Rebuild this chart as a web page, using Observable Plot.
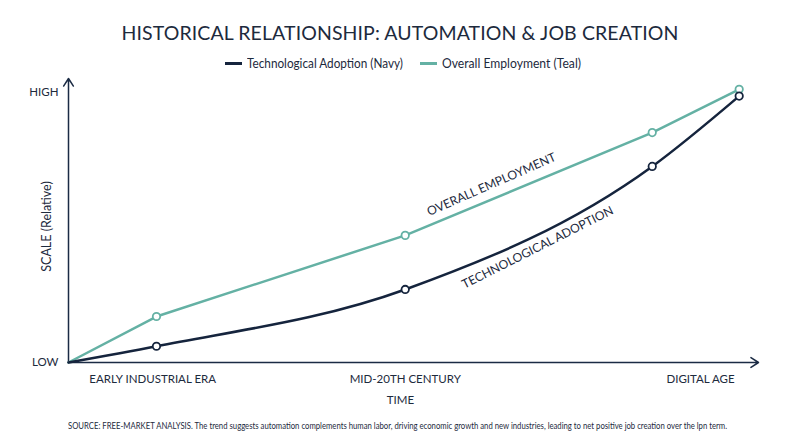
<!DOCTYPE html>
<html>
<head>
<meta charset="utf-8">
<script src="https://cdn.jsdelivr.net/npm/d3@7"></script>
<script src="https://cdn.jsdelivr.net/npm/@observablehq/plot@0.6"></script>
<style>
  html, body { margin: 0; padding: 0; background: #ffffff; }
  body { width: 800px; height: 447px; overflow: hidden; position: relative; font-family: Lato, "Open Sans", sans-serif; color: #1d2a3d; }
  #title { position: absolute; top: 21px; left: 0; width: 800px; text-align: center; font-size: 19.5px; line-height: 24px; font-weight: 400; letter-spacing: 0.1px; }
  #legend { position: absolute; top: 55px; left: 0; width: 800px; height: 16px; font-size: 13px; line-height: 16px; }
  .item { position: absolute; top: 0; display: flex; align-items: center; height: 16px; }
  .sw { width: 17px; height: 3px; margin-right: 5px; flex: none; }
  .lab { display: inline-block; white-space: nowrap; transform-origin: left center; }
  #chart { position: absolute; top: 72px; left: 0; }
  #caption { position: absolute; top: 418px; left: 68px; font-size: 10px; line-height: 15px; white-space: nowrap; transform-origin: left center; }
</style>
</head>
<body>
<div id="title"></div>
<div id="legend"></div>
<div id="chart"></div>
<div id="caption"></div>
<script>
// ---- Data ----
const titleText = "HISTORICAL RELATIONSHIP: AUTOMATION & JOB CREATION";
const seriesNames = ["Technological Adoption (Navy)", "Overall Employment (Teal)"];
const seriesColors = ["#15243d", "#64b1a4"];
const timeIndex = [0, 12.75, 48.8, 84.6, 97.2];
const techAdoption = [0, 6, 27, 72.5, 98.5];
const overallEmployment = [0, 17, 47, 85, 101];
const eraTicks = [12.2, 48.8, 91.6];
const eraLabels = ["EARLY INDUSTRIAL ERA", "MID-20TH CENTURY", "DIGITAL AGE"];
const scaleTicks = [0, 100];
const scaleLabels = ["LOW", "HIGH"];
const xDomain = [0, 100];
const yDomain = [0, 105];
const annotationText = ["OVERALL EMPLOYMENT", "TECHNOLOGICAL ADOPTION"];
const annotationX = [61.3, 68];
const annotationY = [65.8, 42.5];
const annotationAngle = [-23.7, -26.8];
const xLabel = "TIME";
const yLabel = "SCALE (Relative)";
const captionText = "SOURCE: FREE-MARKET ANALYSIS. The trend suggests automation complements human labor, driving economic growth and new industries, leading to net positive job creation over the lpn term.";

// legend layout (page pixels)
const legendLeft = [225, 420];
const legendTextWidth = [156, 139];

// ---- Build ----
const textColor = "#1d2a3d";
const axisColor = "#1b2b44";
document.getElementById("title").textContent = titleText;
const legend = document.getElementById("legend");
seriesNames.forEach((n, i) => {
  const it = document.createElement("div"); it.className = "item"; it.style.left = legendLeft[i] + "px";
  const sw = document.createElement("span"); sw.className = "sw"; sw.style.background = seriesColors[i];
  const lb = document.createElement("span"); lb.className = "lab"; lb.textContent = n;
  it.appendChild(sw); it.appendChild(lb); legend.appendChild(it);
  const w = lb.getBoundingClientRect().width;
  lb.style.transform = `scaleX(${legendTextWidth[i] / w})`;
});
document.getElementById("caption").textContent = captionText;

const tech = timeIndex.map((t, i) => ({t, v: techAdoption[i]}));
const emp = timeIndex.map((t, i) => ({t, v: overallEmployment[i]}));
const notes = annotationText.map((s, i) => ({s, x: annotationX[i], y: annotationY[i], a: annotationAngle[i]}));

const chart = Plot.plot({
  width: 800,
  height: 335,
  marginLeft: 68,
  marginRight: 42,
  marginTop: 6,
  marginBottom: 45,
  x: {domain: xDomain},
  y: {domain: yDomain},
  style: {fontFamily: "Lato, sans-serif", fontSize: "11.5px", color: textColor, background: "transparent"},
  marks: [
    Plot.axisX({ticks: eraTicks, tickFormat: d => eraLabels[eraTicks.indexOf(d)], tickSize: 0, tickPadding: 12, label: null, fontSize: 11.5}),
    Plot.axisY({ticks: scaleTicks, tickFormat: d => scaleLabels[scaleTicks.indexOf(d)], tickSize: 0, tickPadding: 10, label: null, fontSize: 11.5}),
    Plot.arrow([{}], {x1: () => xDomain[0], y1: () => yDomain[0], x2: () => xDomain[0], y2: () => yDomain[1], stroke: axisColor, strokeWidth: 1.5, headLength: 9, headAngle: 66}),
    Plot.arrow([{}], {x1: () => xDomain[0], y1: () => yDomain[0], x2: () => xDomain[1], y2: () => yDomain[0], stroke: axisColor, strokeWidth: 1.5, headLength: 9, headAngle: 66}),
    Plot.text([xLabel], {frameAnchor: "bottom", text: d => d, textAnchor: "middle", lineAnchor: "middle", dx: -13, dy: 38, fontSize: 11.5, fill: textColor}),
    Plot.text([yLabel], {frameAnchor: "left", text: d => d, textAnchor: "middle", lineAnchor: "middle", rotate: -90, dx: -22, dy: 6, fontSize: 12.5, fill: textColor}),
    Plot.line(emp, {x: "t", y: "v", stroke: seriesColors[1], strokeWidth: 2.5}),
    Plot.line(tech, {x: "t", y: "v", stroke: seriesColors[0], strokeWidth: 2.5, curve: "monotone-x"}),
    Plot.dot(emp.slice(1), {x: "t", y: "v", r: 3.7, fill: "white", stroke: seriesColors[1], strokeWidth: 1.8}),
    Plot.dot(tech.slice(1), {x: "t", y: "v", r: 3.7, fill: "white", stroke: seriesColors[0], strokeWidth: 1.8}),
    Plot.text(notes, {x: "x", y: "y", text: "s", rotate: "a", fontSize: 12.2, fill: textColor})
  ]
});
document.getElementById("chart").appendChild(chart);

const cap = document.getElementById("caption");
const cw = cap.getBoundingClientRect().width;
cap.style.transform = `scaleX(${659 / cw})`;
</script>
</body>
</html>
